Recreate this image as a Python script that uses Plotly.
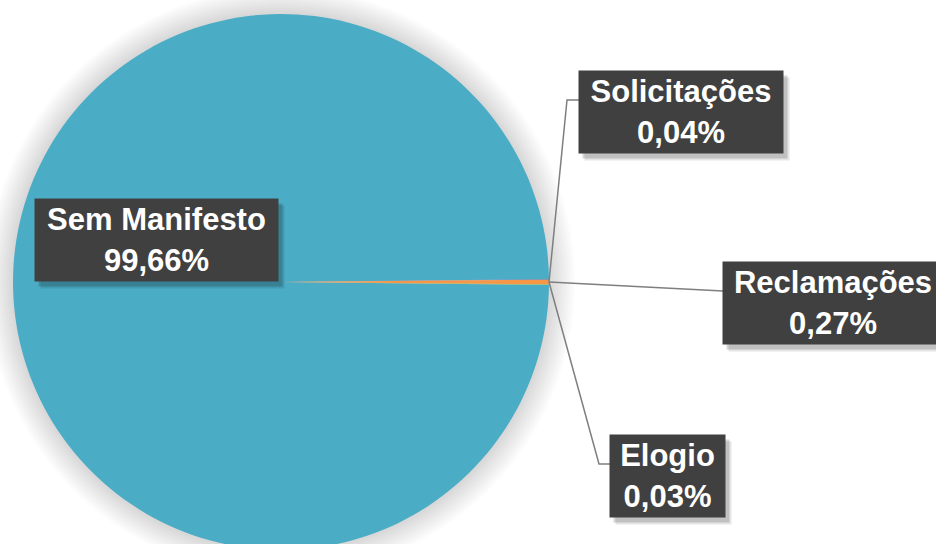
import plotly.graph_objects as go

# dados do grafico (percentual de manifestacoes)
categorias = ["Sem Manifesto", "Solicitações", "Reclamações", "Elogio"]
percentuais = [99.66, 0.04, 0.27, 0.03]
cores = ["#4BACC6", "#4F81BD", "#F79646", "#9BBB59"]

# a figura e um pouco mais alta que a janela: o pie original sai pela borda de baixo
W, H = 936, 552


def px(x):
    return x / W


def py(y):
    return 1 - y / H


# geometria do pie (pixels na tela)
cx, cy, r = 281, 282, 268

fig = go.Figure(go.Pie(
    labels=categorias,
    values=percentuais,
    sort=False,
    direction="clockwise",
    rotation=90.6,
    marker=dict(colors=cores, line=dict(width=0)),
    textinfo="none",
    hoverinfo="label+percent",
    showlegend=False,
    domain=dict(x=[px(cx - r), px(cx + r)], y=[py(cy + r), py(cy - r)]),
))

shapes = []
# brilho cinza em volta do pie
for d in range(26, 0, -2):
    shapes.append(dict(
        type="circle", xref="paper", yref="paper", layer="below",
        x0=px(cx - r - d), x1=px(cx + r + d),
        y0=py(cy + r + d), y1=py(cy - r - d),
        fillcolor="rgba(110,110,110,0.018)", line=dict(width=0),
    ))

# caixas dos rotulos: centro x, centro y, largura (pixels)
caixas = [(156.5, 240, 243), (681, 112, 204), (833, 302.5, 220), (667.5, 476, 115)]
# linhas de chamada: cotovelo e ponta (pixels)
ex, ey = cx + r, cy
chamadas = [None,
            [(567, 100), (579, 100)],
            [(723, 291)],
            [(599, 464), (610, 464)]]

for pts in chamadas:
    if pts is None:
        continue
    path = f"M {px(ex)} {py(ey)}"
    for x, y in pts:
        path += f" L {px(x)} {py(y)}"
    shapes.append(dict(type="path", xref="paper", yref="paper", path=path,
                       line=dict(color="#7F7F7F", width=1.5)))

annotations = []
for cat, val, (bx, by, bw) in zip(categorias, percentuais, caixas):
    texto = f"<b>{cat}<br>{val:.2f}%</b>".replace(".", ",")
    # sombra
    for dx, dy, a in [(6, 7, 0.10), (4, 5, 0.16)]:
        annotations.append(dict(
            x=px(bx), y=py(by), xref="paper", yref="paper",
            xanchor="center", yanchor="middle", showarrow=False,
            xshift=dx, yshift=-dy, width=bw, height=82,
            text=" ", bgcolor=f"rgba(0,0,0,{a})", borderpad=0,
        ))
    annotations.append(dict(
        x=px(bx), y=py(by), xref="paper", yref="paper",
        xanchor="center", yanchor="middle", showarrow=False,
        width=bw, height=82, align="center", valign="middle",
        text=texto, bgcolor="#404040", borderpad=0,
        font=dict(family="Liberation Sans, Arial", size=31, color="white"),
    ))

fig.update_layout(
    width=W, height=H,
    margin=dict(l=0, r=0, t=0, b=0),
    paper_bgcolor="white",
    plot_bgcolor="white",
    shapes=shapes,
    annotations=annotations,
)

fig.write_html(
    "out.html",
    config={"displayModeBar": False},
    post_script="document.body.style.margin='0';document.body.style.overflow='hidden';",
)
